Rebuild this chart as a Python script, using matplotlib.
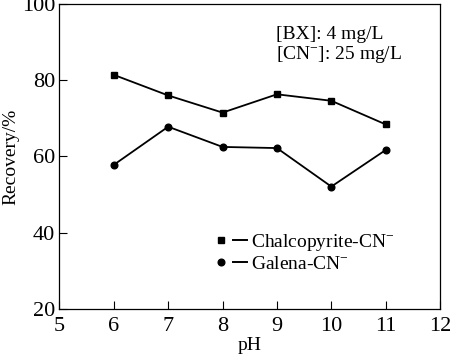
import matplotlib
matplotlib.use("Agg")
import matplotlib.pyplot as plt
from matplotlib.lines import Line2D
from matplotlib.legend_handler import HandlerTuple

plt.rcParams['font.family'] = ['Liberation Serif', 'DejaVu Serif']
plt.rcParams['mathtext.fontset'] = 'custom'
plt.rcParams['mathtext.rm'] = 'Liberation Serif'
plt.rcParams['mathtext.it'] = 'Liberation Serif:italic'

ph = [6, 7, 8, 9, 10, 11]
chalcopyrite = [81.4, 76.0, 71.5, 76.3, 74.6, 68.4]
galena = [57.8, 67.8, 62.5, 62.2, 52.1, 61.7]
xticks = [5, 6, 7, 8, 9, 10, 11, 12]
yticks = [20, 40, 60, 80, 100]
labels = ["Chalcopyrite-CN$^{-}$", "Galena-CN$^{-}$"]

fig = plt.figure(figsize=(4.5, 3.56), dpi=100)
ax = fig.add_axes([0.132, 0.132, 0.846, 0.857])

ax.plot(ph, chalcopyrite, color='black', lw=1.3, marker='s', ms=4.8)
ax.plot(ph, galena, color='black', lw=1.3, marker='o', ms=4.8)

ax.set_xlim(5, 12)
ax.set_ylim(20, 100)
ax.set_xticks(xticks)
ax.set_yticks(yticks)
ax.tick_params(direction='in', labelsize=16, length=6, width=0.8, pad=3)
ax.tick_params(axis='x', pad=6)
for s in ax.spines.values():
    s.set_linewidth(0.9)
ax.set_xlabel("pH", fontsize=14, labelpad=0.5)
ax.set_ylabel("Recovery/%", fontsize=14, labelpad=2)

ax.text(0.568, 0.885, "[BX]: 4 mg/L", transform=ax.transAxes, fontsize=14)
ax.text(0.568, 0.818, "[CN$^{-}$]: 25 mg/L", transform=ax.transAxes, fontsize=14)

dash = Line2D([], [], color='black', lw=1.4)
handles = [(Line2D([], [], color='black', marker='s', ms=4.8, ls='none'), dash),
           (Line2D([], [], color='black', marker='o', ms=4.8, ls='none'), dash)]
ax.legend(handles, labels, loc='upper left',
          bbox_to_anchor=(0.406, 0.252), frameon=False, fontsize=14,
          handler_map={tuple: HandlerTuple(ndivide=None, pad=0.257)},
          handlelength=1.7, handletextpad=0.2, labelspacing=0.12,
          borderpad=0, borderaxespad=0)

fig.savefig("out.png", dpi=100)
